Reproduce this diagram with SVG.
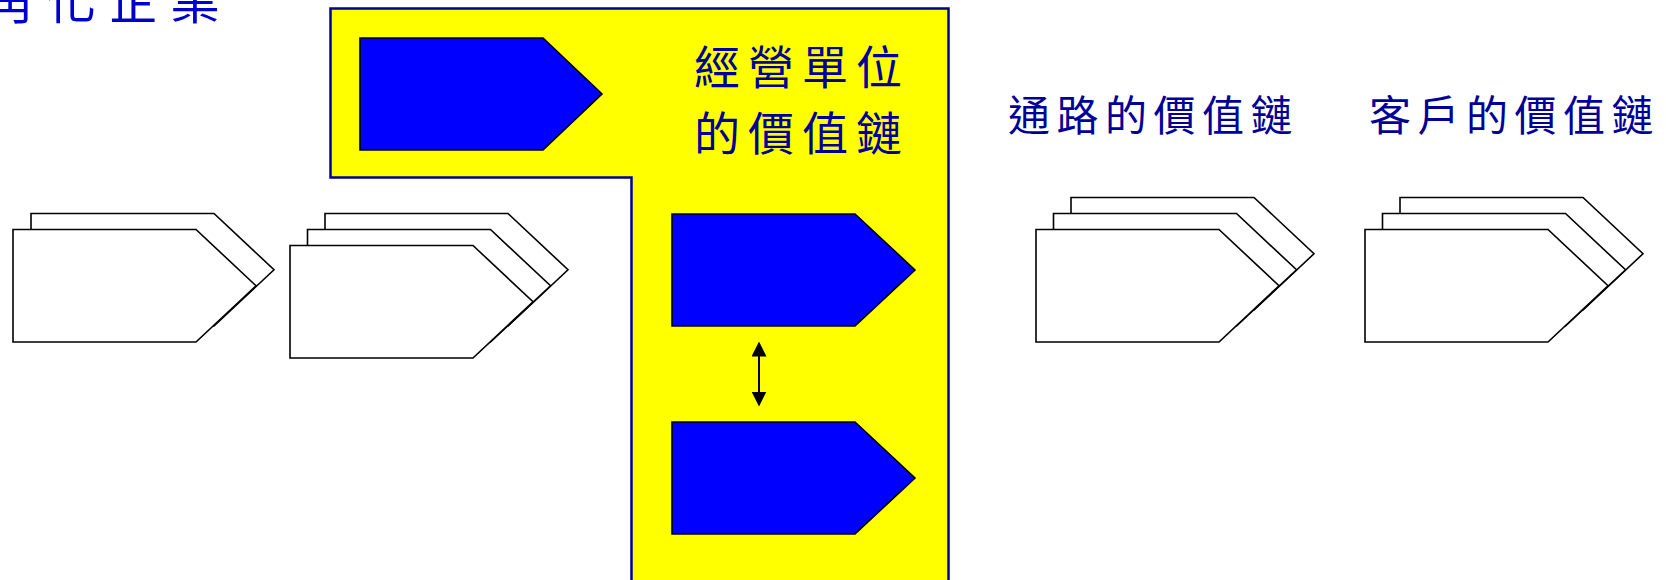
<svg xmlns="http://www.w3.org/2000/svg" width="1666" height="580" viewBox="0 0 1666 580">
  <defs>
    <style>
      .panel { fill: #FFFF00; stroke: #000099; stroke-width: 2.5; }
      .blue { fill: #0000FF; stroke: #000000; stroke-width: 1.6; stroke-linejoin: miter; }
      .white { fill: #FFFFFF; stroke: #000000; stroke-width: 1.6; stroke-linejoin: miter; }
      .cjk { font-family: "Noto Sans CJK TC", "Noto Sans CJK SC", sans-serif; }
      .lbl { fill: #000099; font-size: 46px; letter-spacing: 8px; }
      .lbl2 { fill: #000099; font-size: 42px; letter-spacing: 6.5px; }
      .title { fill: #0000CC; font-size: 50px; letter-spacing: 12px; }
      .conn { stroke: #000000; stroke-width: 2; fill: none; }
    </style>
    <marker id="ah" viewBox="0 0 10 10" refX="9" refY="5" markerWidth="7.5" markerHeight="7.5" orient="auto-start-reverse" markerUnits="strokeWidth">
      <path d="M0,0 L10,5 L0,10 Z" fill="#000000"/>
    </marker>
  </defs>

  <g id="title">
    <text class="cjk title" x="-78" y="19">多角化企業</text>
  </g>

  <g id="panel">
    <path class="panel" d="M330.5,8.5 L948.5,8.5 L948.5,590 L631.5,590 L631.5,177.5 L330.5,177.5 Z"/>
    <text class="cjk lbl" x="694" y="84">經營單位</text>
    <text class="cjk lbl" x="694" y="150">的價值鏈</text>
  </g>

  <g id="unit-a">
    <polygon class="blue" points="360,38 543,38 602,94 543,150 360,150"/>
  </g>
  <g id="unit-b">
    <polygon class="blue" points="672,214 855,214 915,270 855,326 672,326"/>
  </g>
  <g id="unit-c">
    <polygon class="blue" points="672,422 855,422 915,478 855,534 672,534"/>
  </g>

  <g id="stack-1">
    <polygon class="white" points="31,213.5 214,213.5 274,269.75 214,326 31,326"/>
    <polygon class="white" points="13,229.5 196,229.5 256,285.75 196,342 13,342"/>
  </g>

  <g id="stack-2">
    <polygon class="white" points="325,213.5 508,213.5 568,269.75 508,326 325,326"/>
    <polygon class="white" points="307.5,229.5 490.5,229.5 550.5,285.75 490.5,342 307.5,342"/>
    <polygon class="white" points="290,245.5 473,245.5 533,301.75 473,358 290,358"/>
  </g>

  <g id="channel">
    <text class="cjk lbl2" x="1008" y="131">通路的價值鏈</text>
    <polygon class="white" points="1071,197.5 1254,197.5 1314,253.75 1254,310 1071,310"/>
    <polygon class="white" points="1053.5,213.5 1236.5,213.5 1296.5,269.75 1236.5,326 1053.5,326"/>
    <polygon class="white" points="1036,229.5 1219,229.5 1279,285.75 1219,342 1036,342"/>
  </g>

  <g id="customer">
    <text class="cjk lbl2" x="1369" y="131">客戶的價值鏈</text>
    <polygon class="white" points="1400,197.5 1583,197.5 1643,253.75 1583,310 1400,310"/>
    <polygon class="white" points="1382.5,213.5 1565.5,213.5 1625.5,269.75 1565.5,326 1382.5,326"/>
    <polygon class="white" points="1365,229.5 1548,229.5 1608,285.75 1548,342 1365,342"/>
  </g>

  <g id="connectors">
    <line class="conn" x1="759" y1="343" x2="759" y2="405" marker-start="url(#ah)" marker-end="url(#ah)"/>
  </g>
</svg>
